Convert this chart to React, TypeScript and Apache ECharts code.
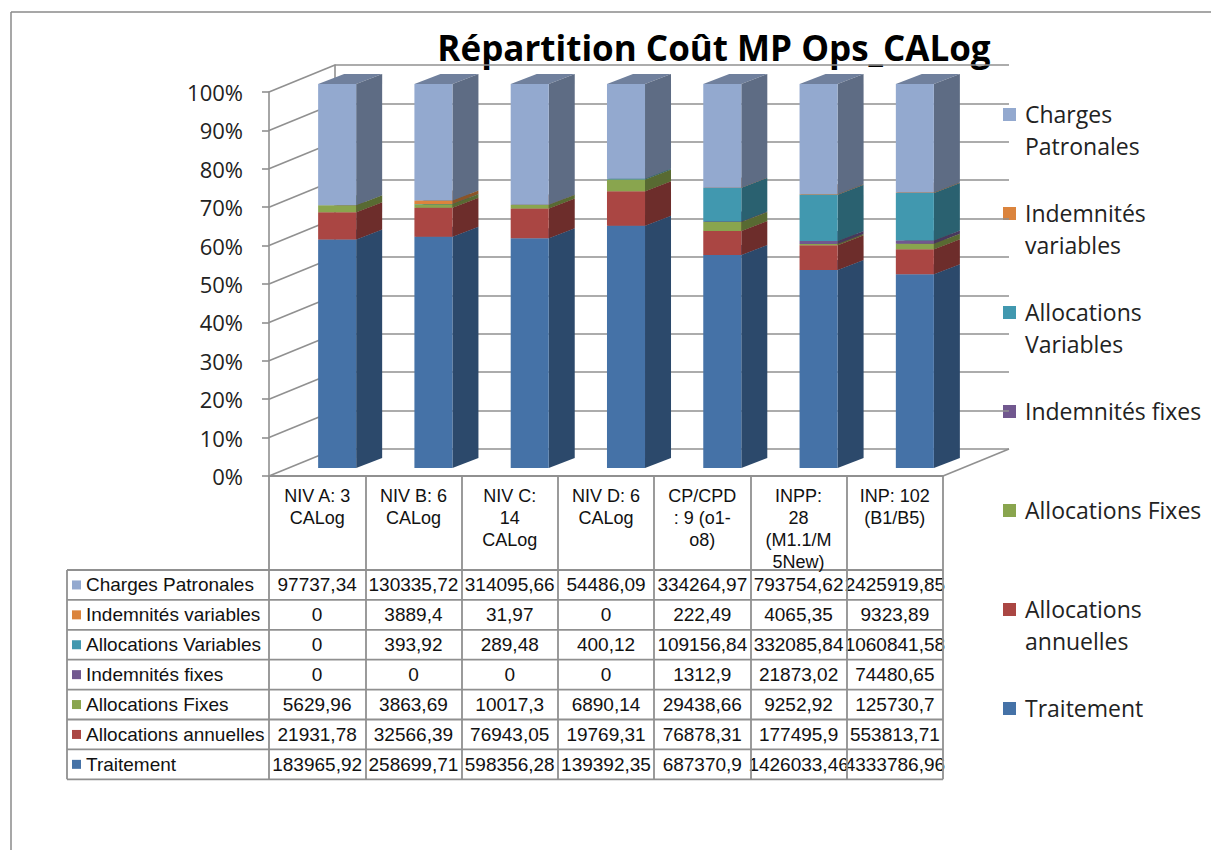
import React, { useEffect, useRef } from "react";
import * as echarts from "echarts";

// ---------- data ----------
const CATEGORIES = [
  "NIV A: 3 CALog",
  "NIV B: 6 CALog",
  "NIV C: 14 CALog",
  "NIV D: 6 CALog",
  "CP/CPD : 9 (o1-o8)",
  "INPP: 28 (M1.1/M5New)",
  "INP: 102 (B1/B5)",
];
const TICK_LABELS = [
  "NIV A: 3\nCALog",
  "NIV B: 6\nCALog",
  "NIV C:\n14\nCALog",
  "NIV D: 6\nCALog",
  "CP/CPD\n: 9 (o1-\no8)",
  "INPP:\n28\n(M1.1/M\n5New)",
  "INP: 102\n(B1/B5)",
];
const SERIES_NAMES = [
  "Traitement",
  "Allocations annuelles",
  "Allocations Fixes",
  "Indemnités fixes",
  "Allocations Variables",
  "Indemnités variables",
  "Charges Patronales",
];
const LEGEND_LABELS = [
  "Traitement",
  "Allocations\nannuelles",
  "Allocations Fixes",
  "Indemnités fixes",
  "Allocations\nVariables",
  "Indemnités\nvariables",
  "Charges\nPatronales",
];
const TRAITEMENT = [183965.92, 258699.71, 598356.28, 139392.35, 687370.9, 1426033.46, 4333786.96];
const ALLOC_ANNUELLES = [21931.78, 32566.39, 76943.05, 19769.31, 76878.31, 177495.9, 553813.71];
const ALLOC_FIXES = [5629.96, 3863.69, 10017.3, 6890.14, 29438.66, 9252.92, 125730.7];
const INDEM_FIXES = [0, 0, 0, 0, 1312.9, 21873.02, 74480.65];
const ALLOC_VARIABLES = [0, 393.92, 289.48, 400.12, 109156.84, 332085.84, 1060841.58];
const INDEM_VARIABLES = [0, 3889.4, 31.97, 0, 222.49, 4065.35, 9323.89];
const CHARGES_PATRONALES = [97737.34, 130335.72, 314095.66, 54486.09, 334264.97, 793754.62, 2425919.85];
const Y_TICKS = [0, 10, 20, 30, 40, 50, 60, 70, 80, 90, 100];
const TITLE = "Répartition Coût MP Ops_CALog";

const SERIES_VALUES = [
  TRAITEMENT,
  ALLOC_ANNUELLES,
  ALLOC_FIXES,
  INDEM_FIXES,
  ALLOC_VARIABLES,
  INDEM_VARIABLES,
  CHARGES_PATRONALES,
];
const COLORS = ["#4572A7", "#AA4643", "#89A54E", "#71588F", "#4198AF", "#DB843D", "#93A9CF"];

// ---------- layout ----------
const W = 1211;
const H = 850;
const FRONT = { left: 269, right: 943, top: 92, bottom: 476 };
const DEPTH = { dx: 66, dy: -27 };
const BAR = { ox: 20, oy: -8, dx: 26, dy: -10, ratio: 0.395 };
const TABLE = { left: 67, top: 570, rowH: 29.9 };
const LEGEND = { markX: 1003, textX: 1025, firstY: 114, step: 99, lineH: 32 };
const LINE = "#909090";
const CAL = "'Open Sans', 'Noto Sans', sans-serif";
const ARIAL = "'Liberation Sans', Arial, sans-serif";

function shade(hex: string, f: number): string {
  const n = parseInt(hex.slice(1), 16);
  const r = Math.round(((n >> 16) & 255) * f);
  const g = Math.round(((n >> 8) & 255) * f);
  const b = Math.round((n & 255) * f);
  return "rgb(" + r + "," + g + "," + b + ")";
}
function fmt(v: number): string {
  return String(v).replace(".", ",");
}

function buildOption() {
  const totals = CATEGORIES.map((_, i) => SERIES_VALUES.reduce((s, arr) => s + arr[i], 0));
  const cum = CATEGORIES.map(() => 0);

  const barSeries = SERIES_NAMES.map((name, s) => {
    const data = CATEGORIES.map((_, i) => {
      const a = cum[i];
      const b = a + (SERIES_VALUES[s][i] / totals[i]) * 100;
      cum[i] = b;
      return [i, a, b];
    });
    const front = COLORS[s];
    const side = shade(COLORS[s], 0.64);
    const top = shade(COLORS[s], 0.76);
    return {
      type: "custom",
      name,
      xAxisIndex: 0,
      yAxisIndex: 0,
      z: 5 + s,
      clip: false,
      encode: { x: 0, y: [1, 2] },
      data,
      renderItem: (params: any, api: any) => {
        const i = api.value(0);
        const a = api.value(1);
        const b = api.value(2);
        if (b - a < 1e-9) return null;
        const p0 = api.coord([i, a]);
        const p1 = api.coord([i, b]);
        const bw = api.size([1, 0])[0] * BAR.ratio;
        const xl = p0[0] - bw / 2 + BAR.ox;
        const xr = xl + bw;
        const y0 = p0[1] + BAR.oy;
        const y1 = p1[1] + BAR.oy;
        const dx = BAR.dx;
        const dy = BAR.dy;
        return {
          type: "group",
          children: [
            {
              type: "polygon",
              shape: { points: [[xl, y1], [xr, y1], [xr + dx, y1 + dy], [xl + dx, y1 + dy]] },
              style: { fill: top },
            },
            {
              type: "polygon",
              shape: { points: [[xr, y1], [xr + dx, y1 + dy], [xr + dx, y0 + dy], [xr, y0]] },
              style: { fill: side },
            },
            {
              type: "rect",
              shape: { x: xl, y: y1, width: bw, height: y0 - y1 },
              style: { fill: front },
            },
          ],
        };
      },
    };
  });

  const frameSeries = {
    type: "custom",
    name: "frame",
    xAxisIndex: 0,
    yAxisIndex: 0,
    z: 1,
    clip: false,
    silent: true,
    encode: { x: 0, y: 1 },
    data: Y_TICKS.map((v) => [0, v]),
    renderItem: (params: any, api: any) => {
      const v = api.value(1);
      const p = api.coord([0, v]);
      const cs = params.coordSys;
      const x0 = cs.x;
      const children: any[] = [
        {
          type: "line",
          shape: { x1: x0, y1: p[1], x2: x0 + DEPTH.dx, y2: p[1] + DEPTH.dy },
          style: { stroke: LINE, lineWidth: 1.6 },
        },
      ];
      if (v === 0) {
        const x1 = cs.x + cs.width;
        children.push({
          type: "line",
          shape: { x1, y1: p[1], x2: x1 + DEPTH.dx, y2: p[1] + DEPTH.dy },
          style: { stroke: LINE, lineWidth: 1.6 },
        });
      }
      return { type: "group", children };
    },
  };

  // ---------- graphic: frame, title, legend, data table ----------
  const g: any[] = [];
  g.push({ type: "line", shape: { x1: 11, y1: 12, x2: 11, y2: H }, style: { stroke: "#8a8a8a", lineWidth: 1.5 } });
  g.push({ type: "line", shape: { x1: 11, y1: 12, x2: W, y2: 12 }, style: { stroke: "#8a8a8a", lineWidth: 1.5 } });
  g.push({
    type: "text",
    x: 714,
    y: 47,
    style: {
      text: TITLE,
      font: "bold 35px " + CAL,
      fill: "#000",
      align: "center",
      textAlign: "center",
      verticalAlign: "middle",
      textVerticalAlign: "middle",
    },
  });

  // legend (top = last series)
  for (let k = 0; k < SERIES_NAMES.length; k++) {
    const s = SERIES_NAMES.length - 1 - k;
    const cy = LEGEND.firstY + LEGEND.step * k;
    g.push({
      type: "rect",
      shape: { x: LEGEND.markX, y: cy - 6, width: 13, height: 13 },
      style: { fill: COLORS[s] },
    });
    g.push({
      type: "text",
      x: LEGEND.textX,
      y: cy - LEGEND.lineH / 2,
      style: {
        text: LEGEND_LABELS[s],
        font: "23px " + CAL,
        lineHeight: LEGEND.lineH,
        fill: "#222",
        align: "left",
        textAlign: "left",
        verticalAlign: "top",
        textVerticalAlign: "top",
      },
    });
  }

  // data table
  const nRows = SERIES_NAMES.length;
  const colW = (FRONT.right - FRONT.left) / CATEGORIES.length;
  for (let k = 0; k <= nRows; k++) {
    const y = TABLE.top + TABLE.rowH * k;
    g.push({
      type: "line",
      shape: { x1: TABLE.left, y1: y, x2: FRONT.right, y2: y },
      style: { stroke: LINE, lineWidth: 1.8 },
    });
  }
  g.push({
    type: "line",
    shape: { x1: TABLE.left, y1: TABLE.top, x2: TABLE.left, y2: TABLE.top + TABLE.rowH * nRows },
    style: { stroke: LINE, lineWidth: 1.8 },
  });
  for (let r = 0; r < nRows; r++) {
    const s = nRows - 1 - r;
    const cy = TABLE.top + TABLE.rowH * (r + 0.5);
    g.push({
      type: "rect",
      shape: { x: 72, y: cy - 4.5, width: 9, height: 9 },
      style: { fill: COLORS[s] },
    });
    g.push({
      type: "text",
      x: 86,
      y: cy,
      style: {
        text: SERIES_NAMES[s],
        font: "19px " + ARIAL,
        fill: "#111",
        align: "left",
        textAlign: "left",
        verticalAlign: "middle",
        textVerticalAlign: "middle",
      },
    });
    for (let i = 0; i < CATEGORIES.length; i++) {
      g.push({
        type: "text",
        x: FRONT.left + colW * (i + 0.5),
        y: cy,
        style: {
          text: fmt(SERIES_VALUES[s][i]),
          font: "19px " + ARIAL,
          fill: "#111",
          align: "center",
          textAlign: "center",
          verticalAlign: "middle",
          textVerticalAlign: "middle",
        },
      });
    }
  }

  const tableBottom = TABLE.top + TABLE.rowH * nRows;

  return {
    animation: false,
    backgroundColor: "#fff",
    grid: [
      {
        left: FRONT.left,
        right: W - FRONT.right,
        top: FRONT.top,
        bottom: H - FRONT.bottom,
        containLabel: false,
      },
      {
        left: FRONT.left + DEPTH.dx,
        right: W - FRONT.right - DEPTH.dx,
        top: FRONT.top + DEPTH.dy,
        bottom: H - FRONT.bottom - DEPTH.dy,
        containLabel: false,
      },
    ],
    xAxis: [
      {
        type: "category",
        gridIndex: 0,
        data: TICK_LABELS,
        boundaryGap: true,
        axisLine: { show: true, lineStyle: { color: LINE, width: 1.8 } },
        axisTick: {
          show: true,
          interval: 0,
          length: tableBottom - FRONT.bottom,
          lineStyle: { color: LINE, width: 1.8 },
        },
        axisLabel: {
          interval: 0,
          margin: 9,
          fontFamily: ARIAL,
          fontSize: 18,
          lineHeight: 22,
          color: "#111",
        },
        splitLine: { show: false },
      },
      {
        type: "category",
        gridIndex: 1,
        data: TICK_LABELS,
        show: false,
      },
    ],
    yAxis: [
      {
        type: "value",
        gridIndex: 0,
        min: 0,
        max: 100,
        interval: 10,
        axisLine: { show: true, lineStyle: { color: LINE, width: 1.6 } },
        axisTick: { show: true, length: 7, lineStyle: { color: LINE, width: 1.6 } },
        axisLabel: {
          formatter: "{value}%",
          margin: 26,
          fontFamily: CAL,
          fontSize: 22,
          color: "#222",
        },
        splitLine: { show: false },
      },
      {
        type: "value",
        gridIndex: 1,
        min: 0,
        max: 100,
        interval: 10,
        axisLine: { show: true, lineStyle: { color: LINE, width: 1.6 } },
        axisTick: { show: false },
        axisLabel: { show: false },
        splitLine: { show: true, lineStyle: { color: LINE, width: 1.6 } },
      },
    ],
    series: [frameSeries, ...barSeries],
    graphic: g,
  };
}

export default function App() {
  const ref = useRef<HTMLDivElement>(null);
  useEffect(() => {
    if (!ref.current) return;
    const chart = echarts.init(ref.current, undefined, { renderer: "svg" });
    chart.setOption(buildOption() as any);
    return () => chart.dispose();
  }, []);
  return (
    <div
      ref={ref}
      style={{ position: "absolute", left: 0, top: 0, width: W, height: H }}
    />
  );
}
